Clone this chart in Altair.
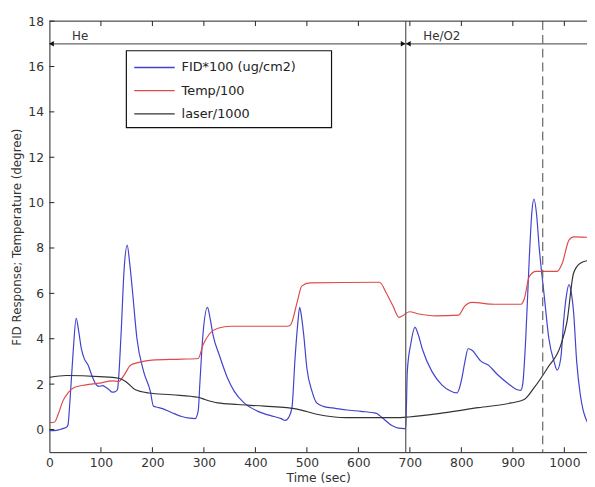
import altair as alt
import pandas as pd

# ---- data ----
fid_t = [0, 10, 20, 27, 33, 36, 40, 46, 52, 57, 62, 68, 75, 82, 90, 96, 103, 110, 116, 122, 127, 132, 139, 145, 151,
         156, 161, 170, 183, 196, 202, 210, 218, 238, 257, 272, 283, 289, 292, 298, 307, 312, 318, 330, 346, 359,
         378, 404, 436, 450, 458, 465, 471, 477, 482, 486, 490, 494, 500, 510, 519, 532, 550, 577, 605, 634, 642,
         650, 666, 678, 689, 692, 695, 702, 710, 716, 724, 743, 762, 778, 791, 796, 801, 807, 813, 820, 839, 852,
         871, 890, 909, 915, 919, 925, 932, 937, 941, 946, 951, 961, 970, 980, 986, 993, 999, 1004, 1009, 1013,
         1018, 1024, 1031, 1036, 1041, 1047]
fid_v = [-0.05, -0.05, 0.0, 0.05, 0.1, 0.2, 1.3, 3.4, 4.9, 4.3, 3.56, 3.1, 2.84, 2.4, 2.0, 1.9, 1.93, 1.85, 1.75, 1.65,
         1.66, 1.75, 4.14, 7.04, 8.13, 7.3, 6.17, 4.0, 2.55, 1.68, 1.03, 0.98, 0.93, 0.74, 0.57, 0.5, 0.48, 0.83,
         1.97, 4.14, 5.38, 4.9, 4.14, 3.27, 2.26, 1.68, 1.17, 0.81, 0.57, 0.48, 0.40, 0.55, 0.96, 3.13, 4.6, 5.38,
         4.9, 4.14, 2.7, 1.68, 1.17, 1.02, 0.95, 0.86, 0.8, 0.72, 0.6, 0.45, 0.16, 0.06, 0.04, 0.05, 2.55, 3.8,
         4.5, 4.2, 3.56, 2.55, 1.97, 1.71, 1.61, 1.8, 2.26, 3.0, 3.56, 3.5, 2.99, 2.84, 2.4, 2.04, 1.75, 1.72, 1.97,
         4.0, 7.6, 9.6, 10.16, 9.5, 8.06, 5.88, 4.0, 2.99, 2.62, 3.13, 4.87, 5.9, 6.39, 6.1, 5.16, 2.99, 1.53, 0.9,
         0.52, 0.23]

temp_t = [0, 10, 17, 26, 36, 49, 71, 97, 122, 135, 145, 158, 174, 199, 257, 289, 298, 311, 327, 353, 462, 468,
          481, 490, 506, 641, 654, 667, 679, 685, 699, 718, 750, 794, 807, 820, 865, 916, 922, 932, 945, 986,
          996, 1009, 1018, 1047]
temp_v = [0.3, 0.33, 0.67, 1.25, 1.61, 1.86, 1.97, 2.04, 2.14, 2.12, 2.4, 2.84, 2.96, 3.06, 3.1, 3.13, 3.71, 4.22,
          4.46, 4.55, 4.55, 4.6, 5.6, 6.32, 6.46, 6.49, 6.03, 5.45, 4.94, 5.0, 5.19, 5.09, 5.01, 5.04, 5.45, 5.6,
          5.52, 5.52, 5.74, 6.75, 6.97, 6.97, 7.33, 8.35, 8.49, 8.47]

laser_t = [0, 33, 97, 135, 148, 167, 193, 238, 289, 302, 327, 366, 417, 481, 519, 577, 673, 698, 769, 833, 897,
           922, 941, 967, 993, 1005, 1018, 1031, 1047]
laser_v = [2.3, 2.38, 2.33, 2.26, 2.12, 1.75, 1.61, 1.53, 1.42, 1.32, 1.17, 1.1, 1.03, 0.9, 0.67, 0.52, 0.52, 0.55,
           0.74, 0.96, 1.17, 1.32, 1.83, 2.7, 3.71, 4.73, 6.9, 7.33, 7.45]

series_names = ["FID*100 (ug/cm2)", "Temp/100", "laser/1000"]
series_colors = ["#4242cc", "#de4a4a", "#333333"]

x_ticks = list(range(0, 1001, 100))
y_ticks = list(range(0, 19, 2))
x_domain = [0, 1044]
y_domain = [-1, 18]

switch_time = 692       # He -> He/O2
dashed_time = 958
phase_labels = ["He", "He/O2"]
phase_label_t = [44, 726]
arrow_level = 17

FONT = "DejaVu Sans"
W, H = 545, 437

rows = []
for name, ts, vs in zip(series_names, [fid_t, temp_t, laser_t], [fid_v, temp_v, laser_v]):
    for t, v in zip(ts, vs):
        rows.append({"t": t, "v": v, "series": name})
df = pd.DataFrame(rows)

xs = alt.Scale(domain=x_domain, nice=False, zero=False)
ys = alt.Scale(domain=y_domain, nice=False, zero=False)

lines = alt.Chart(df).mark_line(strokeWidth=1.2, clip=True, interpolate="monotone").encode(
    x=alt.X("t:Q", scale=xs, title="Time (sec)",
            axis=alt.Axis(values=x_ticks, format="d", ticks=False, grid=False, domainColor="#222",
                          labelColor="#333", labelFont=FONT, labelFontSize=12.5, labelPadding=5,
                          titleFont=FONT, titleFontSize=12.5, titleFontWeight="normal", titleColor="#333",
                          titlePadding=2, labelFlush=False)),
    y=alt.Y("v:Q", scale=ys, title="FID Response; Temperature (degree)",
            axis=alt.Axis(values=y_ticks, ticks=False, grid=False, domainColor="#222", labelColor="#333",
                          labelFont=FONT, labelFontSize=12.5, labelPadding=6, titleFont=FONT, titleFontSize=12,
                          titleFontWeight="normal", titleColor="#333", titlePadding=4)),
    color=alt.Color("series:N", scale=alt.Scale(domain=series_names, range=series_colors), legend=None),
    order="t:Q",
)

# vertical lines
vsolid = alt.Chart(pd.DataFrame({"t": [switch_time]})).mark_rule(color="#555", strokeWidth=1.2).encode(
    x=alt.X("t:Q", scale=xs), y=alt.value(0), y2=alt.value(H))
vdash = alt.Chart(pd.DataFrame({"t": [dashed_time]})).mark_rule(color="#666", strokeWidth=1.2,
                                                                 strokeDash=[9, 5]).encode(
    x=alt.X("t:Q", scale=xs), y=alt.value(0), y2=alt.value(H))

# phase arrow line
arrow_df = pd.DataFrame({"t": [x_domain[0]], "t2": [x_domain[1]], "v": [arrow_level]})
arrow_line = alt.Chart(arrow_df).mark_rule(color="#666", strokeWidth=1.2).encode(
    x=alt.X("t:Q", scale=xs), x2="t2:Q", y=alt.Y("v:Q", scale=ys))

heads_df = pd.DataFrame({"t": [4, switch_time - 5, switch_time + 5],
                         "v": [arrow_level] * 3,
                         "shape": ["triangle-left", "triangle-right", "triangle-left"]})
heads = alt.Chart(heads_df).mark_point(filled=True, color="#111", size=30, opacity=1).encode(
    x=alt.X("t:Q", scale=xs), y=alt.Y("v:Q", scale=ys),
    shape=alt.Shape("shape:N", scale=None))

phase_df = pd.DataFrame({"t": phase_label_t, "v": [arrow_level] * 2, "label": phase_labels})
phase_text = alt.Chart(phase_df).mark_text(align="left", baseline="bottom", dy=-1, font=FONT, fontSize=12,
                                           color="#333").encode(
    x=alt.X("t:Q", scale=xs), y=alt.Y("v:Q", scale=ys), text="label:N")

# inward ticks
xt_df = pd.DataFrame({"t": x_ticks[1:]})
bottom_ticks = alt.Chart(xt_df).mark_rule(color="#222").encode(
    x=alt.X("t:Q", scale=xs), y=alt.value(H), y2=alt.value(H - 5))
top_ticks = alt.Chart(xt_df).mark_rule(color="#222").encode(
    x=alt.X("t:Q", scale=xs), y=alt.value(0), y2=alt.value(5))
yt_df = pd.DataFrame({"v": y_ticks})
left_ticks = alt.Chart(yt_df).mark_rule(color="#222").encode(
    y=alt.Y("v:Q", scale=ys), x=alt.value(0), x2=alt.value(5))
top_border = alt.Chart(pd.DataFrame({"a": [0]})).mark_rule(color="#222").encode(
    x=alt.value(0), x2=alt.value(W), y=alt.value(0))

# legend box
LX, LY, LW, LH = 78, 30, 208, 78
box = alt.Chart(pd.DataFrame({"a": [0]})).mark_rect(fill="white", stroke="#111", strokeWidth=1.2).encode(
    x=alt.value(LX), x2=alt.value(LX + LW), y=alt.value(LY), y2=alt.value(LY + LH))
leg_layers = [box]
for i, (name, col) in enumerate(zip(series_names, series_colors)):
    yy = LY + 17 + i * 23.5
    d = pd.DataFrame({"label": [name]})
    leg_layers.append(alt.Chart(d).mark_rule(color=col, strokeWidth=1.3).encode(
        x=alt.value(LX + 8), x2=alt.value(LX + 49), y=alt.value(yy)))
    leg_layers.append(alt.Chart(d).mark_text(align="left", baseline="middle", font=FONT, fontSize=13,
                                             color="#222").encode(
        x=alt.value(LX + 56), y=alt.value(yy), text="label:N"))

chart = alt.layer(
    lines, vsolid, vdash, arrow_line, heads, phase_text,
    bottom_ticks, top_ticks, left_ticks, top_border, *leg_layers
).properties(
    width=W, height=H,
    autosize=alt.AutoSizeParams(type="none"),
    padding={"left": 42, "top": 10, "right": 0, "bottom": 32},
    background="white",
).configure_view(stroke=None)

chart.save("out.html", embed_options={"renderer": "svg", "actions": False})
